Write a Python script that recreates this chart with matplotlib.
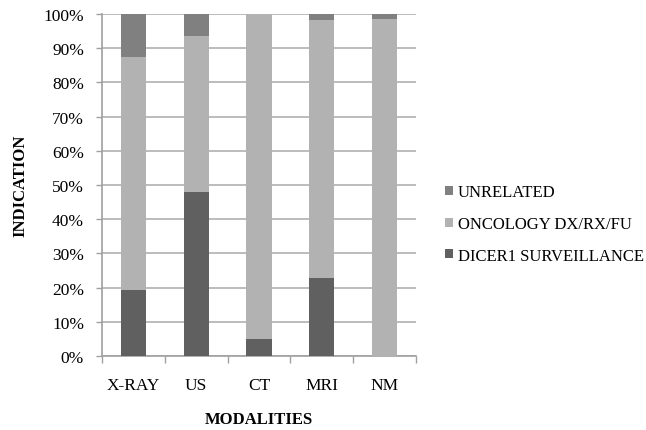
import matplotlib.pyplot as plt
import numpy as np

modalities = ["X-RAY", "US", "CT", "MRI", "NM"]
dicer = [19.3, 47.8, 5.0, 22.8, 0.0]
oncology = [68.1, 45.8, 95.0, 75.4, 98.5]
unrelated = [12.6, 6.4, 0.0, 1.8, 1.5]

plt.rcParams['font.family'] = ['Liberation Serif', 'DejaVu Serif']

fig = plt.figure(figsize=(6.46, 4.31), dpi=100)
ax = fig.add_axes([0.158, 0.172, 0.486, 0.793])

x = np.arange(len(modalities))
w = 0.4
b1 = ax.bar(x, dicer, w, color="#606060", label="DICER1 SURVEILLANCE", zorder=3)
b2 = ax.bar(x, oncology, w, bottom=dicer, color="#b2b2b2", label="ONCOLOGY DX/RX/FU", zorder=3)
bottom2 = np.array(dicer) + np.array(oncology)
b3 = ax.bar(x, unrelated, w, bottom=bottom2, color="#808080", label="UNRELATED", zorder=3)

ax.set_xlim(-0.5, len(modalities) - 0.5)
ax.set_ylim(0, 100)
ax.set_yticks(np.arange(0, 101, 10))
ax.set_yticklabels([f"{v}%" for v in range(0, 101, 10)], fontsize=12.5)
ax.set_xticks(x)
ax.set_xticklabels(modalities, fontsize=12.5)
ax.set_xticks(np.arange(-0.5, len(modalities)), minor=True)
ax.tick_params(axis='x', which='major', length=0, pad=15)
ax.tick_params(axis='x', which='minor', length=5, color="#a0a0a0", width=1)
ax.tick_params(axis='y', length=4, color="#a0a0a0", width=1, pad=9)
ax.yaxis.grid(True, color="#b0b0b0", linewidth=1.2, zorder=0)

for s in ["top", "right"]:
    ax.spines[s].set_visible(False)
for s in ["left", "bottom"]:
    ax.spines[s].set_color("#a0a0a0")
    ax.spines[s].set_linewidth(1.2)

ax.set_xlabel("MODALITIES", fontsize=12, fontweight="bold", labelpad=13)
ax.set_ylabel("INDICATION", fontsize=12, fontweight="bold", labelpad=11)

ax.legend(handles=[b3, b2, b1], loc="center left", bbox_to_anchor=(0.689, 0.478),
          bbox_transform=fig.transFigure, borderpad=0, borderaxespad=0,
          frameon=False, fontsize=12, handlelength=0.45, handleheight=0.45,
          handletextpad=0.3, labelspacing=0.95)

fig.savefig("out.png", dpi=100)
